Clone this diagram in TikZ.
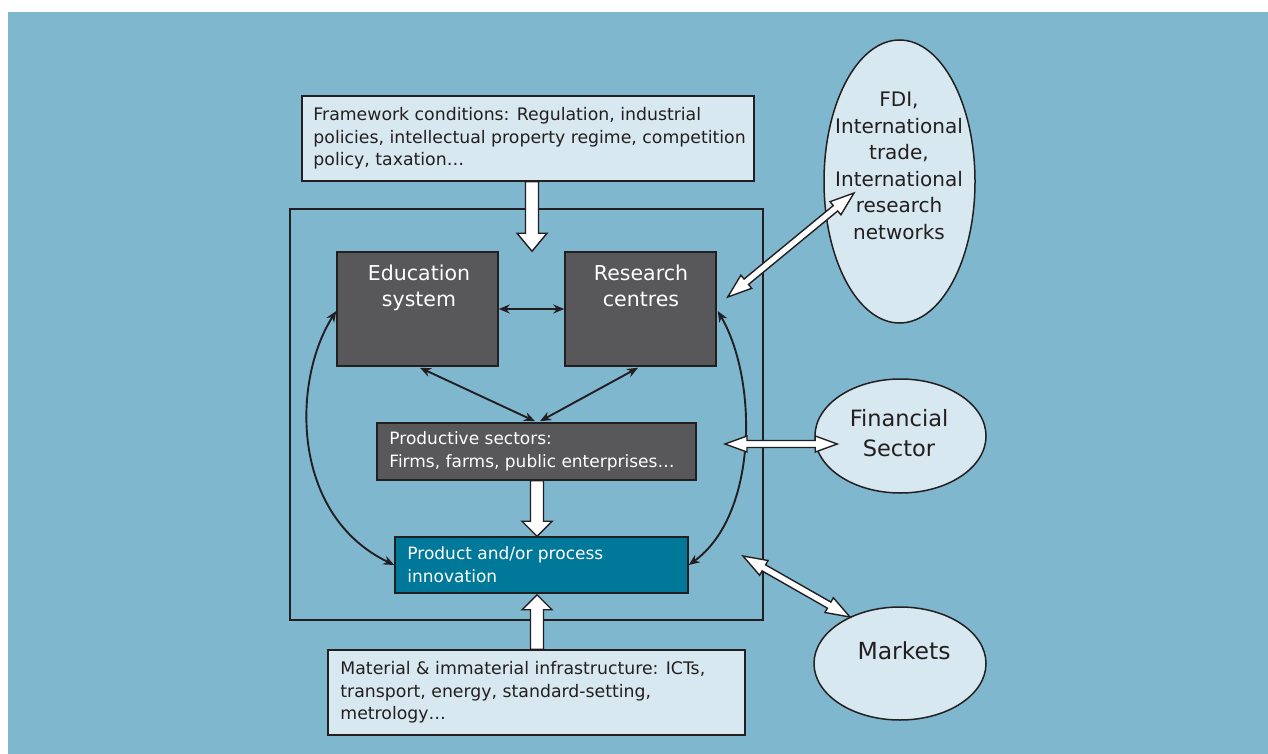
\documentclass[tikz,border=0pt]{standalone}
\usepackage{fontspec}
\setmainfont{DejaVu Sans}
\usetikzlibrary{calc,shapes.geometric,arrows.meta}

\definecolor{bgblue}{HTML}{7FB7CF}
\definecolor{paleblue}{HTML}{D8E8F0}
\definecolor{darkgrey}{HTML}{58585A}
\definecolor{teal}{HTML}{00789A}
\definecolor{ink}{HTML}{231F20}

% solid white block arrow: #1 tail, #2 tip, #3 shaft half-width, #4 head half-width, #5 head length
\newcommand\singleblock[5]{%
  \coordinate (sb-h) at ($(#2)!#5!(#1)$);
  \draw[blockarrow]
    ($(#1)!#3!90:(#2)$) -- ($(sb-h)!#3!90:(#2)$) -- ($(sb-h)!#4!90:(#2)$) -- (#2)
    -- ($(sb-h)!#4!-90:(#2)$) -- ($(sb-h)!#3!-90:(#2)$) -- ($(#1)!#3!-90:(#2)$) -- cycle;
}
% white block arrow with a head at both ends
\newcommand\doubleblock[5]{%
  \coordinate (db-a) at ($(#1)!#5!(#2)$);
  \coordinate (db-b) at ($(#2)!#5!(#1)$);
  \draw[blockarrow]
    (#1) -- ($(db-a)!#4!90:(#2)$) -- ($(db-a)!#3!90:(#2)$) -- ($(db-b)!#3!90:(#2)$)
    -- ($(db-b)!#4!90:(#2)$) -- (#2) -- ($(db-b)!#4!-90:(#2)$) -- ($(db-b)!#3!-90:(#2)$)
    -- ($(db-a)!#3!-90:(#2)$) -- ($(db-a)!#4!-90:(#2)$) -- cycle;
}

\tikzset{
  outline/.style={draw=ink, line width=1.5pt},
  lightbox/.style={outline, fill=paleblue, rectangle, inner sep=0pt},
  darkbox/.style={outline, fill=darkgrey, rectangle, inner sep=0pt},
  boxtext/.style={anchor=west, align=left, inner sep=0pt, font=\fontsize{17.3}{22.5}\selectfont},
  whitetext/.style={text=white, inner sep=0pt},
  bubble/.style={outline, fill=paleblue, ellipse, inner sep=0pt},
  bubbletext/.style={text=ink, align=center, inner sep=0pt},
  link/.style={draw=ink, line width=1.9pt, {Stealth[length=11pt,width=9pt]}-{Stealth[length=11pt,width=9pt]}},
  blockarrow/.style={draw=ink, line width=1.4pt, fill=white, line join=miter},
}

\begin{document}
\begin{tikzpicture}[x=1pt,y=-1pt]
  \useasboundingbox (0,0) rectangle (1268,754);
  \fill[white] (0,0) rectangle (1268,754);
  \fill[bgblue] (8,12) rectangle (1268,754);

  % outer system frame
  \node[draw=ink, line width=1.4pt, rectangle, minimum width=473pt, minimum height=411pt, inner sep=0pt]
    (frame) at (526.5,414.5) {};

  % framework conditions
  \node[lightbox, minimum width=452pt, minimum height=85pt] (fw) at (528,138.5) {};
  \node[boxtext, text=ink] (fw-t) at ($(fw.west)+(12,0)$)
    {Framework conditions: Regulation, industrial\\policies, intellectual property regime, competition\\policy, taxation\ldots};

  % education and research
  \node[darkbox, minimum width=161pt, minimum height=114pt] (edu) at (417.5,309) {};
  \node[whitetext, align=center, font=\fontsize{20.5}{25.5}\selectfont] (edu-t) at (419,288) {Education\\system};
  \node[darkbox, minimum width=151pt, minimum height=114pt] (res) at (640.5,309) {};
  \node[whitetext, align=center, font=\fontsize{20.5}{25.5}\selectfont] (res-t) at (641,286) {Research\\centres};

  % productive sectors
  \node[darkbox, minimum width=319pt, minimum height=57pt] (prod) at (536.5,451.5) {};
  \node[boxtext, text=white, font=\fontsize{17}{23}\selectfont] (prod-t) at ($(prod.west)+(13,0)$)
    {Productive sectors:\\Firms, farms, public enterprises\ldots};

  % innovation
  \node[outline, fill=teal, rectangle, inner sep=0pt, minimum width=293pt, minimum height=56pt] (inno) at (541.5,565) {};
  \node[boxtext, text=white, font=\fontsize{17}{23}\selectfont] (inno-t) at ($(inno.west)+(13,0)$)
    {Product and/or process\\innovation};

  % infrastructure
  \node[lightbox, minimum width=417pt, minimum height=85pt] (infra) at (536.5,692.5) {};
  \node[boxtext, text=ink] (infra-t) at ($(infra.west)+(13,0)$)
    {Material \& immaterial infrastructure: ICTs,\\transport, energy, standard-setting,\\metrology\ldots};

  % outside influences
  \node[bubble, minimum width=151pt, minimum height=283pt] (fdi) at (899.5,181.5) {};
  \node[bubbletext, font=\fontsize{20}{26.5}\selectfont] (fdi-t) at (899,166)
    {FDI,\\International\\trade,\\International\\research\\networks};
  \node[bubble, minimum width=171pt, minimum height=114pt] (fin) at (900.5,436) {};
  \node[bubbletext, font=\fontsize{22.5}{30}\selectfont] (fin-t) at (899,433) {Financial\\Sector};
  \node[bubble, minimum width=172pt, minimum height=113pt] (mkt) at (900,663.5) {};
  \node[bubbletext, font=\fontsize{23.5}{28}\selectfont] (mkt-t) at (904,651) {Markets};

  % links inside the system
  \draw[link] (edu.east) -- (res.west);
  \draw[link] ($(edu.south)+(2.5,1)$) -- ($(prod.north)+(-1.5,-1)$);
  \draw[link] ($(res.south)+(-2.5,1)$) -- ($(prod.north)+(3.5,-1)$);
  \draw[link] ($(edu.west)+(0,2)$) .. controls (292,380) and (290,515) .. (inno.west);
  \draw[link] ($(res.east)+(1,2)$) .. controls (758,380) and (758,515) .. (inno.east);

  % block arrows
  \coordinate (fw-a) at ($(fw.south)+(4,0)$);
  \coordinate (fw-b) at (fw-a |- edu.north);
  \singleblock{fw-a}{fw-b}{6.5pt}{15pt}{18pt}
  \coordinate (prod-a) at ($(prod.south)+(0.5,0)$);
  \coordinate (prod-b) at (prod-a |- inno.north);
  \singleblock{prod-a}{prod-b}{6.5pt}{15pt}{15pt}
  \coordinate (infra-a) at ($(infra.north)+(0.5,0)$);
  \coordinate (infra-b) at ($(infra-a |- inno.south)+(0,1)$);
  \singleblock{infra-a}{infra-b}{6.5pt}{15pt}{15pt}

  \coordinate (fdi-a) at ($(res.east)+(11,-12)$);
  \coordinate (fdi-b) at ($(fdi.center)+(-45.5,11.5)$);
  \doubleblock{fdi-a}{fdi-b}{3.5pt}{8.5pt}{24pt}
  \coordinate (fin-a) at (725,444);
  \coordinate (fin-b) at ($(fin.west)+(23,8)$);
  \doubleblock{fin-a}{fin-b}{3.5pt}{8pt}{22pt}
  \coordinate (mkt-a) at (743,556);
  \coordinate (mkt-b) at ($(mkt.center)+(-50,-46.5)$);
  \doubleblock{mkt-a}{mkt-b}{3.5pt}{8.5pt}{24pt}
\end{tikzpicture}
\end{document}
